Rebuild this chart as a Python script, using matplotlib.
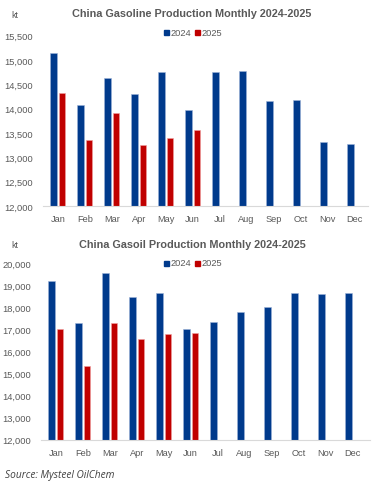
import matplotlib
matplotlib.use("Agg")
import matplotlib.pyplot as plt
import numpy as np

plt.rcParams['font.family'] = ['Liberation Sans', 'DejaVu Sans']

months = ['Jan', 'Feb', 'Mar', 'Apr', 'May', 'Jun', 'Jul', 'Aug', 'Sep', 'Oct', 'Nov', 'Dec']

# gasoline, kt
gasoline_2024 = [15140, 14080, 14630, 14300, 14750, 13980, 14750, 14770, 14160, 14180, 13320, 13270]
gasoline_2025 = [14320, 13360, 13910, 13260, 13390, 13570]

# gasoil, kt
gasoil_2024 = [19200, 17290, 19560, 18460, 18670, 17020, 17340, 17800, 18020, 18670, 18590, 18640]
gasoil_2025 = [17020, 15330, 17290, 16580, 16790, 16850]

blue = '#003A8C'
red = '#C00000'
grey = '#595959'

W, H = 376, 485
fig = plt.figure(figsize=(W / 100, H / 100), dpi=100)

def px_axes(x0, y_top, x1, y_bot):
    return fig.add_axes([x0 / W, 1 - y_bot / H, (x1 - x0) / W, (y_bot - y_top) / H])

def draw(ax, v24, v25, ymin, ymax, step, xmax):
    x = np.arange(len(months))
    w = 0.24
    ax.bar(x - 0.155, v24, w, color=blue, edgecolor='#9DB3D8', linewidth=0.4)
    ax.bar(x[:len(v25)] + 0.155, v25, w, color=red, edgecolor='#F0A0A0', linewidth=0.4)
    ax.set_xlim(-0.55, xmax)
    ax.set_ylim(ymin, ymax)
    ax.set_xticks(x)
    ax.set_xticklabels(months)
    yt = np.arange(ymin, ymax + 1, step)
    ax.set_yticks(yt)
    ax.set_yticklabels([f'{v:,}' for v in yt])
    for s in ['top', 'right', 'left']:
        ax.spines[s].set_visible(False)
    ax.spines['bottom'].set_color('#D9D9D9')
    ax.spines['bottom'].set_linewidth(0.8)
    ax.tick_params(axis='both', length=0, labelsize=6.7, labelcolor=grey)
    ax.tick_params(axis='x', pad=6)
    ax.tick_params(axis='y', pad=7)

ax1 = px_axes(43, 36.5, 368, 207)
draw(ax1, gasoline_2024, gasoline_2025, 12000, 15500, 500, 11.5)

ax2 = px_axes(41, 264.3, 370, 440.7)
draw(ax2, gasoil_2024, gasoil_2025, 12000, 20000, 1000, 11.65)

def header(title, y_title, y_leg):
    fig.text(192 / W, 1 - y_title / H, title, ha='center', va='center',
             fontsize=7.8, fontweight='bold', color=grey)
    fig.text(15 / W, 1 - (y_title + 1) / H, 'kt', ha='center', va='center',
             fontsize=6.5, color=grey)
    for xs, col, lab in [(166, blue, '2024'), (197, red, '2025')]:
        fig.patches.append(plt.Rectangle(((xs - 2.5) / W, 1 - (y_leg + 2.5) / H), 5 / W, 5 / H,
                                         transform=fig.transFigure, color=col))
        fig.text((xs + 4.5) / W, 1 - y_leg / H, lab, ha='left', va='center',
                 fontsize=6.7, color=grey)

header('China Gasoline Production Monthly 2024-2025', 14, 33)
header('China Gasoil Production Monthly 2024-2025', 245, 264)

fig.text(5 / W, 1 - 476 / H, 'Source: Mysteel OilChem', ha='left', va='center',
         fontsize=7.3, style='italic', color='#404040', family=['Open Sans', 'DejaVu Sans'])

fig.savefig('out.png', dpi=100)
